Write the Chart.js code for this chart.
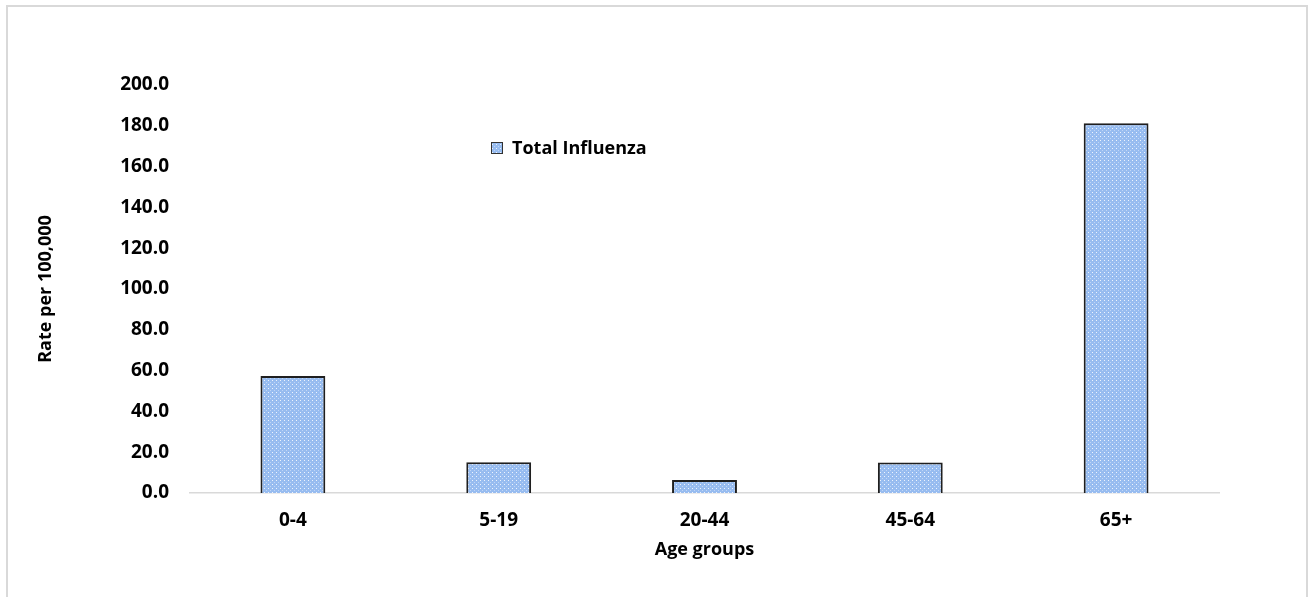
<!DOCTYPE html>
<html>
<head>
<meta charset="utf-8">
<script src="https://cdn.jsdelivr.net/npm/chart.js@4/dist/chart.umd.min.js"></script>
<style>
    body { margin: 0; background: #ffffff; }
    #moldura {
        position: absolute;
        left: 6px;
        top: 5px;
        width: 1302px;
        height: 640px;
        border: 2px solid #d9d9d9;
        box-sizing: border-box;
    }
    #caixa { position: absolute; left: 0; top: 0; width: 1312px; height: 597px; }
</style>
</head>
<body>
<div id="moldura"></div>
<div id="caixa"><canvas id="chartInfluenza"></canvas></div>
<script>
// dados
var faixasEtarias = ['0-4', '5-19', '20-44', '45-64', '65+'];
var taxaInfluenza = [57.3, 15.1, 6.4, 15.0, 181.3];
var nomeSerie = 'Total Influenza';
var eixoYMin = 0;
var eixoYMax = 200;
var eixoYPasso = 20;

var fonte = "'Open Sans', sans-serif";

// preenchimento quadriculado azul
function criarPadrao() {
    var c = document.createElement('canvas');
    c.width = 4;
    c.height = 4;
    var ctx = c.getContext('2d');
    ctx.fillStyle = '#97bcf0';
    ctx.fillRect(0, 0, 4, 4);
    ctx.fillStyle = '#eef4fd';
    ctx.fillRect(0, 0, 1, 1);
    ctx.fillStyle = '#c0d6f6';
    ctx.fillRect(2, 2, 1, 1);
    return ctx.createPattern(c, 'repeat');
}

var padrao = criarPadrao();

// legenda desenhada dentro da area do grafico
const legendaInterna = {
    id: 'legendaInterna',
    afterDraw(chart) {
        const { ctx } = chart;
        var ds = chart.data.datasets[0];
        var x = 491;
        var y = 148;

        ctx.save();
        ctx.fillStyle = ds.backgroundColor;
        ctx.fillRect(x, y - 6, 12, 12);
        ctx.strokeStyle = '#333333';
        ctx.lineWidth = 1;
        ctx.strokeRect(x + 0.5, y - 5.5, 11, 11);

        ctx.fillStyle = '#000000';
        ctx.font = "bold 18px " + fonte;
        ctx.textBaseline = 'middle';
        ctx.textAlign = 'left';
        ctx.fillText(ds.label, x + 21, y + 1);
        ctx.restore();
    }
};

var grafico = new Chart(document.getElementById('chartInfluenza'), {
    type: 'bar',
    data: {
        labels: faixasEtarias,
        datasets: [
            {
                label: nomeSerie,
                data: taxaInfluenza,
                backgroundColor: padrao,
                borderColor: '#1f1f1f',
                borderWidth: 2,
                barPercentage: 0.315,
                categoryPercentage: 1
            }
        ]
    },
    options: {
        responsive: true,
        maintainAspectRatio: false,
        animation: false,
        layout: {
            padding: { left: 35, top: 85, right: 93, bottom: 29 }
        },
        plugins: {
            legend: { display: false },
            tooltip: { enabled: false }
        },
        scales: {
            x: {
                grid: { display: false },
                border: { display: true, color: '#d9d9d9', width: 1.5 },
                ticks: {
                    color: '#000000',
                    padding: 8,
                    font: { family: fonte, size: 19, weight: 'bold' }
                },
                title: {
                    display: true,
                    text: 'Age groups',
                    color: '#000000',
                    padding: { top: 0, bottom: 7 },
                    font: { family: fonte, size: 18, weight: 'bold' }
                },
                afterFit: function (scale) {
                    scale.height = 75;
                }
            },
            y: {
                min: eixoYMin,
                max: eixoYMax,
                grid: { display: false },
                border: { display: false },
                ticks: {
                    stepSize: eixoYPasso,
                    color: '#000000',
                    padding: 13,
                    font: { family: fonte, size: 19, weight: 'bold' },
                    callback: function (valor) {
                        return Number(valor).toFixed(1);
                    }
                },
                title: {
                    display: true,
                    text: 'Rate per 100,000',
                    color: '#000000',
                    padding: { top: 0, bottom: 0 },
                    font: { family: fonte, size: 18, weight: 'bold' }
                },
                afterFit: function (scale) {
                    scale.width = 155;
                }
            }
        }
    },
    plugins: [legendaInterna]
});
</script>
</body>
</html>
